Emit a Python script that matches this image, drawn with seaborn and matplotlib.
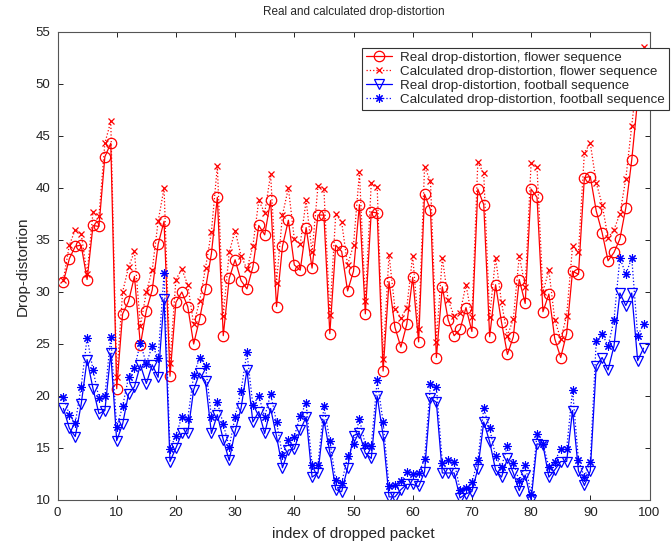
import matplotlib
matplotlib.use("Agg")
import matplotlib.pyplot as plt
import seaborn as sns

idx = list(range(1, 100))

flower_real = [31.0, 33.2, 34.4, 34.5, 31.2, 36.4, 36.3, 43.0, 44.3, 20.7,
               27.9, 29.1, 31.5, 24.9, 28.2, 30.2, 34.6, 36.8, 21.9, 29.0,
               30.0, 28.6, 25.0, 27.4, 30.3, 33.7, 39.1, 25.8, 31.3, 33.1,
               31.1, 30.3, 32.4, 36.4, 35.5, 38.8, 28.6, 34.4, 36.9, 32.6,
               32.1, 36.2, 32.3, 37.4, 37.4, 26.0, 34.5, 33.9, 30.1, 32.0,
               38.4, 27.9, 37.7, 37.6, 22.4, 31.0, 26.6, 24.7, 26.9, 31.4,
               25.2, 39.4, 37.9, 23.7, 30.5, 27.3, 25.8, 26.4, 28.5, 26.2,
               39.9, 38.4, 25.7, 30.7, 27.1, 24.0, 25.7, 31.2, 28.9, 39.9,
               39.1, 28.1, 29.8, 25.5, 23.7, 26.0, 32.0, 31.7, 41.0, 41.1,
               37.8, 35.7, 33.0, 33.8, 35.1, 38.1, 42.7, 48.5, 52.5]

flower_calc = [31.2, 34.5, 36.0, 35.6, 31.7, 37.7, 37.3, 44.3, 46.4, 21.8,
               30.0, 32.4, 33.9, 26.7, 30.0, 32.1, 36.8, 40.0, 23.2, 31.2,
               32.2, 30.7, 26.9, 29.1, 32.3, 35.8, 42.1, 27.7, 33.8, 35.9,
               33.5, 32.2, 34.4, 38.8, 37.6, 41.3, 30.9, 37.4, 40.0, 35.1,
               34.6, 38.8, 33.8, 40.2, 39.9, 27.8, 37.5, 36.7, 32.6, 34.5,
               41.5, 29.1, 40.5, 40.1, 23.6, 33.6, 28.4, 27.5, 28.5, 33.5,
               26.4, 42.0, 40.7, 25.2, 33.3, 29.2, 27.7, 28.0, 30.7, 27.6,
               42.5, 41.4, 27.6, 33.3, 29.0, 25.8, 27.4, 33.5, 30.5, 42.4,
               42.0, 30.0, 32.1, 27.3, 25.5, 27.7, 34.4, 33.8, 43.4, 44.3,
               40.5, 38.4, 35.2, 36.0, 37.5, 40.9, 46.0, 51.0, 53.6]

football_real = [18.8, 16.9, 16.1, 19.2, 23.5, 20.7, 18.3, 18.6, 24.1, 15.7,
                 17.3, 20.2, 20.9, 23.0, 21.2, 23.0, 21.8, 29.3, 13.7, 15.0,
                 16.4, 16.4, 20.6, 22.2, 21.4, 16.4, 18.2, 15.8, 13.8, 16.6,
                 18.8, 22.5, 17.5, 18.5, 16.4, 18.8, 16.1, 13.1, 14.8, 14.9,
                 16.7, 18.0, 12.2, 12.6, 17.7, 14.6, 11.0, 10.8, 13.1, 16.2,
                 16.4, 14.5, 14.0, 20.0, 16.2, 10.3, 10.3, 11.0, 11.5, 11.5,
                 11.3, 12.7, 19.8, 19.4, 12.6, 12.6, 12.6, 10.2, 10.6, 10.8,
                 13.0, 17.5, 15.6, 12.9, 12.2, 14.0, 12.6, 10.9, 12.4, 10.0,
                 15.4, 15.3, 12.2, 12.9, 13.7, 13.7, 18.6, 12.8, 11.4, 12.8,
                 22.9, 23.7, 22.5, 24.8, 29.9, 28.7, 29.9, 23.4, 24.6]

football_calc = [19.9, 18.2, 17.4, 20.9, 25.6, 22.5, 19.8, 20.0, 25.7, 17.0,
                 19.0, 21.8, 22.7, 25.1, 23.1, 24.8, 23.7, 31.8, 14.9, 16.2,
                 18.0, 17.8, 22.0, 23.7, 22.9, 18.0, 19.4, 17.3, 15.1, 18.0,
                 20.5, 24.2, 19.1, 20.0, 18.0, 20.2, 17.5, 14.3, 15.8, 16.1,
                 18.1, 19.3, 13.4, 13.4, 19.0, 15.7, 11.9, 11.6, 14.2, 15.4,
                 17.8, 15.3, 15.2, 21.5, 17.5, 11.3, 11.4, 11.8, 12.7, 12.5,
                 12.6, 13.9, 21.2, 20.9, 13.6, 13.8, 13.7, 11.0, 11.2, 11.7,
                 13.8, 18.8, 16.9, 14.2, 13.2, 15.2, 13.6, 11.8, 13.4, 10.6,
                 16.3, 15.4, 13.2, 13.7, 14.9, 14.9, 20.6, 13.8, 12.2, 13.7,
                 25.3, 26.0, 24.8, 27.3, 33.3, 31.7, 33.3, 25.8, 26.9]

labels = ["Real drop-distortion, flower sequence",
          "Calculated drop-distortion, flower sequence",
          "Real drop-distortion, football sequence",
          "Calculated drop-distortion, football sequence"]

x_ticks = list(range(0, 101, 10))
y_ticks = list(range(10, 56, 5))

sns.set_theme(style="ticks")
plt.rcParams['font.family'] = ['Liberation Sans', 'DejaVu Sans']

W, H = 671, 547
fig = plt.figure(figsize=(W / 100, H / 100), dpi=100)
ax = fig.add_axes([57.5 / W, 47 / H, 592 / W, 468 / H])

RED = "#ff0000"
BLUE = "#0000ff"

sns.lineplot(x=idx, y=flower_real, ax=ax, color=RED, linewidth=0.9,
             marker='o', markersize=7.5, markerfacecolor='none',
             markeredgecolor=RED, markeredgewidth=0.9, label=labels[0])
sns.lineplot(x=idx, y=flower_calc, ax=ax, color=RED, linewidth=0.9,
             linestyle=':', marker='x', markersize=5,
             markeredgecolor=RED, markeredgewidth=0.9, label=labels[1])
sns.lineplot(x=idx, y=football_real, ax=ax, color=BLUE, linewidth=0.9,
             marker='v', markersize=7.5, markerfacecolor='none',
             markeredgecolor=BLUE, markeredgewidth=0.9, label=labels[2])
sns.lineplot(x=idx, y=football_calc, ax=ax, color=BLUE, linewidth=0.9,
             linestyle=':', marker=(8, 2, 0), markersize=6,
             markeredgecolor=BLUE, markeredgewidth=0.8, label=labels[3])

ax.set_xlim(0, 100)
ax.set_ylim(10, 55)
ax.set_xticks(x_ticks)
ax.set_yticks(y_ticks)
ax.tick_params(direction='in', top=True, right=True, length=3.5,
               width=0.7, labelsize=9.5, colors='#222222', pad=5)
for s in ax.spines.values():
    s.set_visible(True)
    s.set_color('#555555')
    s.set_linewidth(0.8)

ax.set_xlabel("index of dropped packet", fontsize=11, labelpad=6)
ax.set_ylabel("Drop-distortion", fontsize=11, labelpad=4)
fig.text((57.5 + 649.5) / 2 / W, 1 - 12 / H,
         "Real and calculated drop-distortion",
         ha='center', va='center', fontsize=8.5)

leg = ax.legend(loc='upper right', bbox_to_anchor=(1.033, 0.9665),
                borderaxespad=0, frameon=True, fancybox=False,
                edgecolor='#333333', framealpha=1, fontsize=9.6,
                handlelength=2.0, handletextpad=0.6, labelspacing=0.12,
                borderpad=0.3)
leg.get_frame().set_linewidth(0.8)
leg.set_zorder(10)

fig.savefig("out.png", dpi=100)
